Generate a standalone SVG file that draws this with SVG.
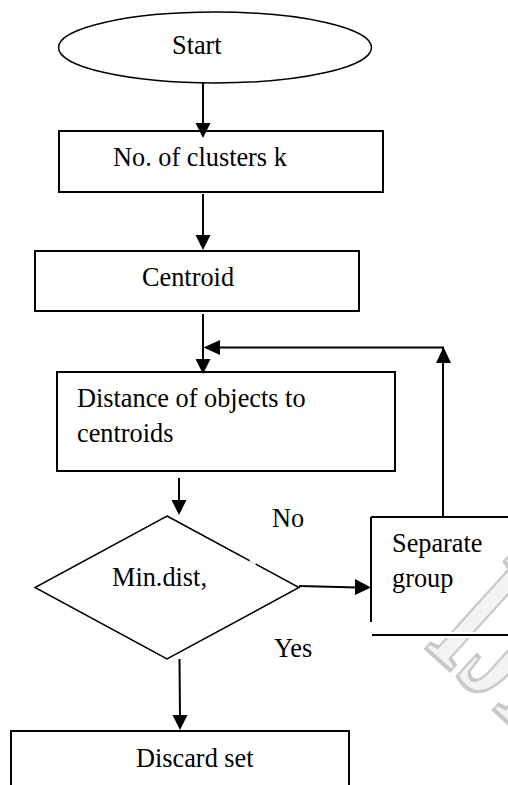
<svg xmlns="http://www.w3.org/2000/svg" width="508" height="785" viewBox="0 0 508 785">
<style>
.s{fill:none;stroke:#000;stroke-width:2}
.d{fill:none;stroke:#000;stroke-width:1.5}
.a{fill:#000;stroke:none}
.t{font-family:"Liberation Serif","Times New Roman",serif;font-size:26.3px;fill:#000}
.wm{font-family:"Liberation Serif",serif;font-size:190px;font-weight:bold;fill:#f3f3f3;stroke:#c9c9c9;stroke-width:4}
</style>
<rect width="508" height="785" fill="#fff"/>
<g id="watermark">
<text class="wm" transform="translate(423,646) rotate(42) scale(0.55,1)">IJERT</text>
</g>
<g id="start">
<ellipse class="d" cx="215" cy="47.5" rx="156.5" ry="35.5"/>
<text class="t" x="172" y="54">Start</text>
</g>
<g id="clusters">
<rect class="s" x="59" y="131" width="324" height="61"/>
<text class="t" x="113" y="166">No. of clusters k</text>
</g>
<g id="centroid">
<rect class="s" x="35" y="251" width="324" height="60"/>
<text class="t" x="142" y="286">Centroid</text>
</g>
<g id="distance">
<rect class="s" x="57" y="372" width="338" height="99"/>
<text class="t" x="77" y="407">Distance of objects to</text>
<text class="t" x="77" y="442">centroids</text>
</g>
<g id="decision">
<polygon class="d" points="167,516 299,587.5 167,659 35,587.5"/>
<line x1="250" y1="560" x2="256" y2="563.5" stroke="#fff" stroke-width="3"/>
<text class="t" x="112" y="586">Min.dist,</text>
</g>
<g id="separate">
<path d="M371,517 H510 M372,635 H510" fill="none" stroke="#fff" stroke-width="6"/>
<path class="s" d="M371,517 H510 M371,517 V622 M372,635 H510"/>
<text class="t" x="392" y="552">Separate</text>
<text class="t" x="392" y="587">group</text>
</g>
<g id="discard">
<path class="s" d="M11,790 V731 H349 V790"/>
<text class="t" x="136" y="767">Discard set</text>
</g>
<g id="connectors">
<line class="s" x1="203" y1="83" x2="203" y2="125"/>
<polygon class="a" points="195.5,123 210.5,123 203,138"/>
<line class="s" x1="203" y1="194" x2="203" y2="237"/>
<polygon class="a" points="195.5,235 210.5,235 203,250"/>
<line class="s" x1="203" y1="314" x2="203" y2="361"/>
<polygon class="a" points="195.5,359 210.5,359 203,374"/>
<line class="s" x1="179" y1="478" x2="179" y2="502"/>
<polygon class="a" points="171.5,500 186.5,500 179,515"/>
<line class="s" x1="299" y1="586" x2="357" y2="587.5"/>
<polygon class="a" points="355,579 355,595 371,587.5"/>
<line class="s" x1="179.5" y1="659" x2="180" y2="717"/>
<polygon class="a" points="172.5,715 187.5,715 180,730"/>
<polyline class="s" points="443,517 443,347.5 218,347.5"/>
<polygon class="a" points="436,363 451,363 443.5,347"/>
<polygon class="a" points="220,340 220,355 203.5,347.5"/>
</g>
<g id="labels">
<text class="t" x="272" y="527">No</text>
<text class="t" x="274" y="657">Yes</text>
</g>
</svg>
